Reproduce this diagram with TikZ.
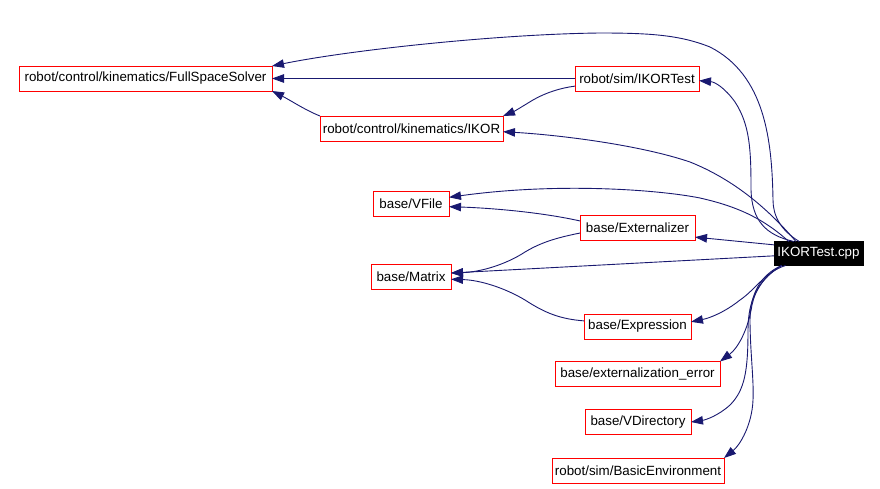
\documentclass[tikz,border=0pt]{standalone}
\usepackage{fontspec}
\setmainfont{Liberation Sans}
\usetikzlibrary{arrows.meta}
\definecolor{edgeblue}{HTML}{191970}
\tikzset{
  box/.style={draw=red, line width=1pt, inner sep=0pt, outer sep=0pt,
    font=\fontsize{13.35}{16}\selectfont, minimum height=25pt, fill=white},
  mainbox/.style={box, draw=black, fill=black, text=white},
  dep/.style={draw=edgeblue, line width=0.9pt,
    -{Triangle[length=12pt,width=8.5pt]}},
}
\begin{document}
\begin{tikzpicture}[x=1pt,y=-1pt]
\useasboundingbox (0,0) rectangle (880,488);
% nodes
\node[box, minimum width=253pt] (fss) at (145.5,78.5) {robot/control/kinematics/FullSpaceSolver};
\node[box, minimum width=124pt] (ikortest) at (637,78.5) {robot/sim/IKORTest};
\node[box, minimum width=183pt] (ikor) at (411.5,128.5) {robot/control/kinematics/IKOR};
\node[box, minimum width=76pt] (vfile) at (411,204) {base/VFile};
\node[box, minimum width=115pt] (ext) at (637.5,228) {base/Externalizer};
\node[box, minimum width=80pt] (matrix) at (411,276.5) {base/Matrix};
\node[box, minimum width=107pt] (expr) at (637.5,326.5) {base/Expression};
\node[box, minimum width=165pt] (exterr) at (637.5,374) {base/externalization\_error};
\node[box, minimum width=106pt] (vdir) at (638,422) {base/VDirectory};
\node[box, minimum width=172pt] (benv) at (638,470.5) {robot/sim/BasicEnvironment};
\node[mainbox, minimum width=89pt, minimum height=24pt] (cpp) at (818.5,253.5) {IKORTest.cpp};
% edges
\draw[dep] (cpp.148) .. controls (780,230) and (773,215) .. (773,200)
  .. controls (772,140) and (765,75) .. (710,47)
  .. controls (680,35) and (650,33) .. (600,33)
  .. controls (500,34) and (350,50) .. (fss.north east);
\draw[dep] (ikortest.west) -- (fss.east);
\draw[dep] (ikor.north west) .. controls (305,110) and (290,100) .. (fss.south east);
\draw[dep] (ikortest.187) .. controls (560,88) and (545,93) .. (533,100)
  .. controls (523,106) and (515,111) .. (ikor.north east);
\draw[dep] (cpp.154) .. controls (765,235) and (752,220) .. (751,190)
  .. controls (751,150) and (750,125) .. (735,102)
  .. controls (725,88) and (715,82) .. (ikortest.-2);
\draw[dep] (cpp.152) .. controls (765,205) and (730,178) .. (690,162)
  .. controls (640,145) and (560,135) .. (ikor.-2);
\draw[dep] (cpp.158) .. controls (765,220) and (740,207) .. (700,198)
  .. controls (660,190) and (560,182) .. (vfile.10);
\draw[dep] (ext.173) .. controls (540,212) and (490,208) .. (vfile.-4);
\draw[dep] (cpp.169) -- (ext.-9);
\draw[dep] (ext.185) .. controls (555,238) and (540,243) .. (525,252)
  .. controls (505,265) and (480,272) .. (matrix.5);
\draw[dep] (cpp.183) -- (matrix.5);
\draw[dep] (expr.174) .. controls (560,319) and (545,313) .. (525,300)
  .. controls (505,288) and (480,280) .. (matrix.-4);
\draw[dep] (cpp.200) .. controls (765,272) and (755,290) .. (740,300)
  .. controls (725,312) and (710,318) .. (expr.5);
\draw[dep] (cpp.198) .. controls (765,275) and (755,290) .. (752,305)
  .. controls (748,330) and (738,348) .. (exterr.north east);
\draw[dep] (cpp.198) .. controls (758,280) and (748,300) .. (748,330)
  .. controls (748,370) and (745,390) .. (730,405)
  .. controls (718,416) and (705,420) .. (vdir.east);
\draw[dep] (cpp.198) .. controls (760,275) and (750,295) .. (750,320)
  .. controls (750,350) and (754,380) .. (753,400)
  .. controls (752,425) and (740,445) .. (benv.north east);
\end{tikzpicture}
\end{document}
